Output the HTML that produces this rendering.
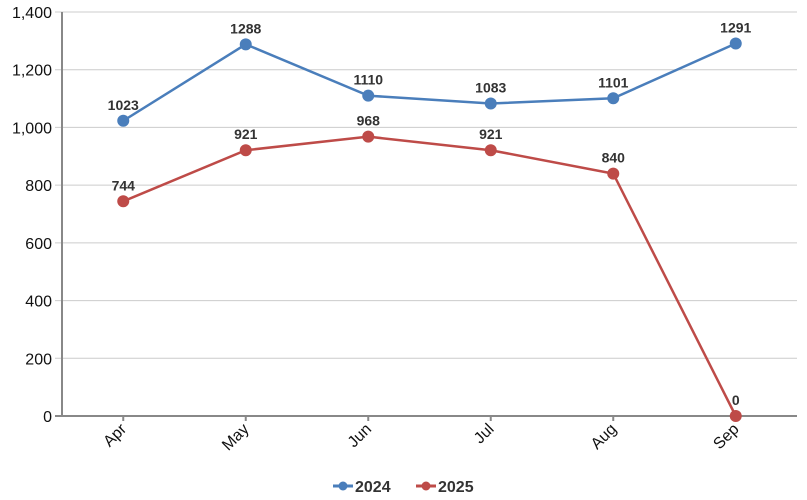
<!DOCTYPE html>
<html><head><meta charset="utf-8"><style>
body{margin:0;background:#fff;}
svg{display:block;font-family:"Liberation Sans",Arial,sans-serif;}
</style></head><body>
<svg id="chart" width="807" height="500"></svg>
<script>
const categories=["Apr","May","Jun","Jul","Aug","Sep"];
const series2024=[1023,1288,1110,1083,1101,1291];
const series2025=[744,921,968,921,840,0];
const yTicks=[0,200,400,600,800,1000,1200,1400];
const seriesNames=["2024","2025"];
const colors=["#4a7ebb","#be4b48"];
const L=62,R=797,T=12,B=416,yMax=1400;
const svg=document.getElementById('chart');
const NS="http://www.w3.org/2000/svg";
function x(i){return L+(R-L)/categories.length*(i+0.5);}
function y(v){return B-(B-T)*v/yMax;}
function mk(tag,attrs,parent){const e=document.createElementNS(NS,tag);for(const k in attrs)e.setAttribute(k,attrs[k]);(parent||svg).appendChild(e);return e;}
yTicks.forEach(t=>{
  const g=mk('line',{x1:L-7,x2:R,y1:y(t),y2:y(t),stroke:t===0?'#888':'#ccc','stroke-width':t===0?2:1});
  
  
  const tx=mk('text',{x:L-10,y:y(t)+6,'text-anchor':'end','font-size':16,fill:'#111'});
  tx.textContent=t.toLocaleString('en-US');
  
  
});
const ax=mk('line',{x1:L,x2:L,y1:T,y2:B,stroke:'#888','stroke-width':2});


categories.forEach((c,i)=>{
  const tk=mk('line',{x1:x(i),x2:x(i),y1:B,y2:B+5,stroke:'#888','stroke-width':2});
  
  
  const t=mk('text',{x:0,y:0,'text-anchor':'end','font-size':16,fill:'#111',transform:`translate(${x(i)+4},${B+14}) rotate(-45)`});
  t.textContent=c;
  
  
});
[series2024,series2025].forEach((s,si)=>{
  const p=mk('polyline',{points:s.map((v,i)=>x(i)+','+y(v)).join(' '),fill:'none',stroke:colors[si],'stroke-width':2.5});
  
  
  s.forEach((v,i)=>{
    const c=mk('circle',{cx:x(i),cy:y(v),r:6,fill:colors[si]});
    
    
    const l=mk('text',{x:x(i),y:y(v)-11,'text-anchor':'middle','font-size':14,'font-weight':'bold',fill:'#333'});
    l.textContent=v;
    
    
  });
});
const lx=[333,416];
seriesNames.forEach((n,i)=>{
  const g=mk('g',{});
  
  
  mk('line',{x1:lx[i],x2:lx[i]+20,y1:486,y2:486,stroke:colors[i],'stroke-width':3},g);
  mk('circle',{cx:lx[i]+10,cy:486,r:4.5,fill:colors[i]},g);
  const t=mk('text',{x:lx[i]+22,y:492,'font-size':16,'font-weight':'bold',fill:'#333'},g);
  t.textContent=n;
});
</script>
</body></html>
